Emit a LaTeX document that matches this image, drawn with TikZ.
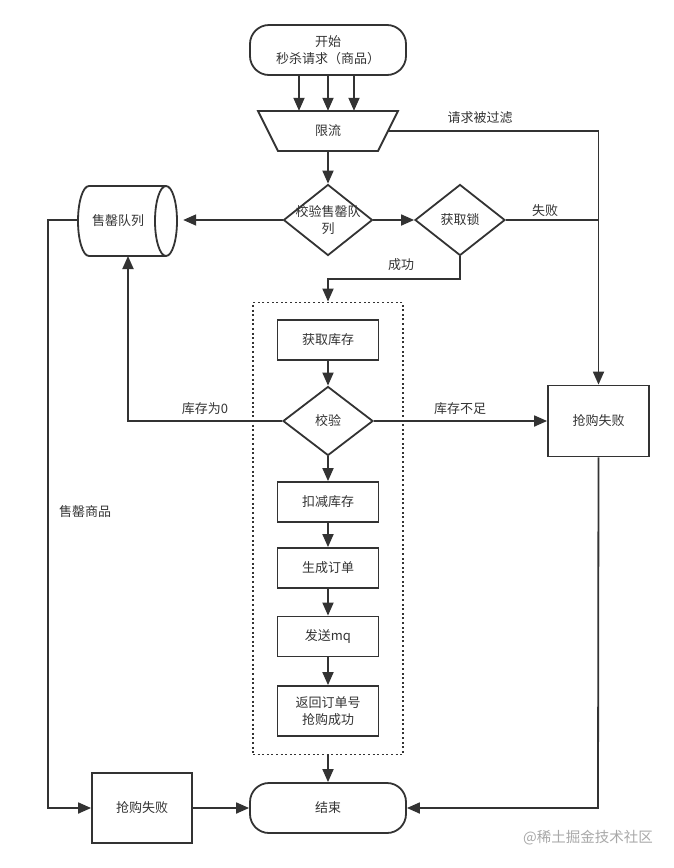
\documentclass[tikz,border=0pt]{standalone}
\usepackage{fontspec}
\setmainfont{Noto Sans CJK SC}
\usetikzlibrary{arrows.meta,shapes.geometric,calc}
\definecolor{ln}{HTML}{333333}
\definecolor{wm}{HTML}{A8A8A8}
\begin{document}
\begin{tikzpicture}[x=1pt,y=-1pt,
  every node/.style={font=\fontsize{13}{17}\selectfont, text=ln},
  edge/.style={draw=ln, line width=1.8pt},
  arr/.style={edge, -{Triangle[length=13pt,width=11pt]}},
  box/.style={draw=ln, line width=1.8pt, rectangle, inner sep=0pt},
  term/.style={draw=ln, line width=1.8pt, rectangle, rounded corners=19pt, minimum width=156pt, minimum height=50pt, align=center, inner sep=0pt},
  dia/.style={draw=ln, line width=1.8pt, diamond, inner sep=0pt},
  lbl/.style={inner sep=0pt}
]
\useasboundingbox (0,0) rectangle (674,868);
% start
\node[term] (start) at (328,50) {开始\\秒杀请求（商品）};
% limiter trapezoid
\draw[draw=ln, line width=1.8pt, line join=miter] (258,111) -- (398,111) -- (378,151) -- (278,151) -- cycle;
\node[lbl, minimum width=120pt, minimum height=40pt] (lim) at (328,131) {限流};
\coordinate (limR) at (388,131);
\foreach \dx/\n in {-29/a,0/b,26/c}{
  \coordinate (s\n) at ($(start.south)+(\dx,0)$);
  \coordinate (t\n) at ($(lim.north)+(\dx,0)$);
  \draw[arr] (s\n) -- (t\n);
}
% check sold-out queue
\node[dia, minimum width=89pt, minimum height=71pt] (chk) at (328,220) {};
\node[lbl, align=center] at (chk) {校验售罄队\\列};
% cylinder
\node[lbl, minimum width=99pt, minimum height=70pt] (cyl) at (127.5,221) {};
\draw[draw=ln, line width=1.8pt] (166,186) -- (89,186) arc[start angle=270, end angle=90, x radius=11, y radius=35] -- (166,256);
\draw[draw=ln, line width=1.8pt] (166,221) ellipse [x radius=11, y radius=35];
\node[lbl] at (118,221) {售罄队列};
% get lock
\node[dia, minimum width=90pt, minimum height=71pt] (lock) at (460,220) {};
\node[lbl] at (lock) {获取锁};
% right fail box
\node[box, minimum width=101pt, minimum height=71pt] (fail1) at (598.5,421) {抢购失败};
% dotted container
\node[draw=ln, line width=1.8pt, dash pattern=on 2pt off 2.6pt, rectangle, minimum width=150pt, minimum height=452pt, inner sep=0pt] (grp) at (328,528.5) {};
% inner steps
\node[box, minimum width=101pt, minimum height=40pt] (stock) at (328,340) {获取库存};
\node[dia, minimum width=90pt, minimum height=69pt] (ver) at (328,421) {};
\node[lbl] at (ver) {校验};
\node[box, minimum width=101pt, minimum height=40pt] (dec) at (328,502) {扣减库存};
\node[box, minimum width=101pt, minimum height=40pt] (ord) at (328,568) {生成订单};
\node[box, minimum width=101pt, minimum height=40pt] (mq) at (328,636.5) {发送mq};
\node[box, minimum width=101pt, minimum height=50pt, align=center] (ret) at (328,711) {返回订单号\\抢购成功};
% end
\node[term] (end) at (328,808) {结束};
% left fail box
\node[box, minimum width=100pt, minimum height=70pt] (fail2) at (142,808) {抢购失败};
% watermark
\node[lbl, text=wm, font=\fontsize{14.5}{17}\selectfont, anchor=east] (wmk) at (653,838) {@稀土掘金技术社区};

% connectors
\draw[arr] (limR) -| (fail1.north);
\node[lbl] at (480,118) {请求被过滤};
\draw[arr] (lim.south) -- (chk.north);
\draw[arr] (chk.west) -- ($(cyl.east)+(6,-1)$);
\draw[arr] (chk.east) -- (lock.west);
\coordinate (rj) at (598,220);
\draw[edge] (lock.east) -- (rj);
\node[lbl] at (545,211) {失败};
\coordinate (lk1) at (460,279);
\coordinate (lk2) at (328,279);
\draw[arr] (lock.south) -- (lk1) -- (lk2) -- (grp.north);
\node[lbl] at (401,265) {成功};
\draw[arr] (stock.south) -- (ver.north);
\coordinate (vl) at (128,421);
\draw[arr] (ver.west) -- (vl) -- (128,256);
\node[lbl] at (205,409) {库存为0};
\draw[arr] (ver.east) -- (fail1.west);
\node[lbl] at (460,409) {库存不足};
\draw[arr] (ver.south) -- (dec.north);
\draw[arr] (dec.south) -- (ord.north);
\draw[arr] (ord.south) -- (mq.north);
\draw[arr] (mq.south) -- (ret.north);
\draw[arr] (grp.south) -- (end.north);
\coordinate (cl) at (48,220);
\draw[arr] (78,220) -- (cl) |- (fail2.west);
\node[lbl] at (85,512) {售罄商品};
\draw[arr] (fail2.east) -- (end.west);
\coordinate (fr) at (598,808);
\draw[arr] (fail1.south) -- (fr) -- (end.east);
\end{tikzpicture}
\end{document}
